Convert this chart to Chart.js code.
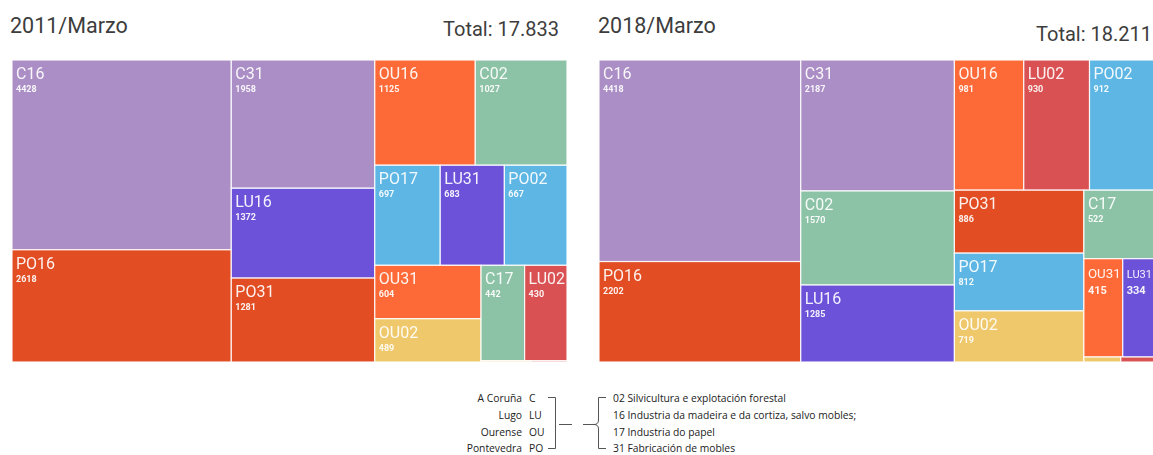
<!DOCTYPE html>
<html>
<head>
<meta charset="utf-8">
<title>Empresas forestais por provincia</title>
<script src="https://cdn.jsdelivr.net/npm/chart.js@4/dist/chart.umd.min.js"></script>
<style>
  body { margin: 0; background: #fff; width: 1153px; height: 455px; overflow: hidden; position: relative; font-family: Roboto, sans-serif; }
  .titulo { position: absolute; top: 13px; font-size: 21.5px; color: #3d3d3d; white-space: nowrap; }
  .total { position: absolute; font-size: 20px; color: #3d3d3d; white-space: nowrap; text-align: right; }
  canvas { position: absolute; top: 60px; }
  .lenda { position: absolute; top: 390px; font-family: "Open Sans", sans-serif; font-size: 10.3px; color: #222; line-height: 16.8px; white-space: nowrap; }
</style>
</head>
<body>

<div class="titulo" id="tit0" style="left:10px"></div>
<div class="total" id="tot0" style="right:594px; top:17px"></div>
<canvas id="mapa0" width="555" height="302" style="left:12px"></canvas>

<div class="titulo" id="tit1" style="left:598px"></div>
<div class="total" id="tot1" style="right:1px; top:22px"></div>
<canvas id="mapa1" width="555" height="302" style="left:599px"></canvas>

<!-- lenda: provincias e sectores -->
<div class="lenda" style="right:631px; text-align:right">A Coruña<br>Lugo<br>Ourense<br>Pontevedra</div>
<div class="lenda" style="left:529px">C<br>LU<br>OU<br>PO</div>
<div class="lenda" style="left:613px">
  02 Silvicultura e explotación forestal<br>
  16 Industria da madeira e da cortiza, salvo mobles;<br>
  17 Industria do papel<br>
  31 Fabricación de mobles
</div>
<svg style="position:absolute; left:540px; top:390px" width="70" height="64">
  <g fill="none" stroke="#555" stroke-width="1">
    <path d="M8 7.5 H15.5 V58.5 H8" />
    <path d="M19 34.5 H32" />
    <path d="M66 7.5 H58.5 V30 Q58.5 34.5 54 34.5 H43" />
    <path d="M54 34.5 Q58.5 34.5 58.5 39 V58.5 H66" />
  </g>
</svg>

<script>
// datos de marzo de cada ano, ordenados de maior a menor
const anios = ['2011/Marzo', '2018/Marzo'];

const codigos2011 = ['C16', 'PO16', 'C31', 'LU16', 'PO31', 'OU16', 'C02', 'PO17', 'LU31', 'PO02', 'OU31', 'OU02', 'C17', 'LU02', 'OU17', 'LU17'];
const valores2011 = [4428, 2618, 1958, 1372, 1281, 1125, 1027, 697, 683, 667, 604, 489, 442, 430, 7, 5];

const codigos2018 = ['C16', 'PO16', 'C31', 'C02', 'LU16', 'OU16', 'LU02', 'PO02', 'PO31', 'PO17', 'OU02', 'C17', 'OU31', 'LU31', 'OU17', 'LU17'];
const valores2018 = [4418, 2202, 2187, 1570, 1285, 981, 930, 912, 886, 812, 719, 522, 415, 334, 20, 18];

const cores = {
  C16: '#aa8ec5', C31: '#aa8ec5', C02: '#8cc2a5', C17: '#8cc2a5',
  LU16: '#6c52d9', LU31: '#6c52d9', LU02: '#d95152', LU17: '#d95152',
  OU16: '#fd6a37', OU31: '#fd6a37', OU02: '#efc86b', OU17: '#efc86b',
  PO16: '#e24d23', PO31: '#e24d23', PO17: '#5db6e4', PO02: '#5db6e4'
};

const PHI = (1 + Math.sqrt(5)) / 2;

// treemap "squarified" (como d3), devolve un rectangulo por valor
function squarify(valores, x0, y0, x1, y1) {
  const celdas = [];
  const n = valores.length;
  let total = valores.reduce((a, b) => a + b, 0);
  let i0 = 0, i1 = 0;
  while (i0 < n) {
    const dx = x1 - x0, dy = y1 - y0;
    let suma = valores[i1++];
    let minV = suma, maxV = suma;
    const alpha = Math.max(dy / dx, dx / dy) / (total * PHI);
    let beta = suma * suma * alpha;
    let minRatio = Math.max(maxV / beta, beta / minV);
    for (; i1 < n; ++i1) {
      const v = valores[i1];
      suma += v;
      if (v < minV) minV = v;
      if (v > maxV) maxV = v;
      beta = suma * suma * alpha;
      const r = Math.max(maxV / beta, beta / minV);
      if (r > minRatio) { suma -= v; break; }
      minRatio = r;
    }
    if (dx < dy) {
      const yb = i1 >= n ? y1 : y0 + dy * suma / total;
      let x = x0;
      for (let i = i0; i < i1; i++) {
        const w = dx * valores[i] / suma;
        celdas[i] = { x0: x, x1: x + w, y0: y0, y1: yb };
        x += w;
      }
      y0 = yb;
    } else {
      const xb = i1 >= n ? x1 : x0 + dx * suma / total;
      let y = y0;
      for (let i = i0; i < i1; i++) {
        const h = dy * valores[i] / suma;
        celdas[i] = { x0: x0, x1: xb, y0: y, y1: y + h };
        y += h;
      }
      x0 = xb;
    }
    total -= suma;
    i0 = i1;
  }
  return celdas;
}

const treemapPlugin = {
  id: 'treemap',
  afterDatasetsDraw(chart) {
    const { ctx, chartArea, scales: { x, y } } = chart;
    const ds = chart.data.datasets[0];
    const ar = chartArea.width / chartArea.height;
    const celdas = squarify(ds.data, 0, 0, ar, 1);

    ctx.save();
    celdas.forEach(function (c, i) {
      const left = x.getPixelForValue(c.x0 / ar);
      const right = x.getPixelForValue(c.x1 / ar);
      const top = y.getPixelForValue(c.y0);
      const bottom = y.getPixelForValue(c.y1);
      const w = right - left, h = bottom - top;

      ctx.fillStyle = ds.backgroundColor[i];
      ctx.fillRect(left, top, w, h);
      ctx.strokeStyle = 'rgba(255,255,255,0.9)';
      ctx.lineWidth = 1.2;
      ctx.strokeRect(left, top, w, h);

      if (w < 20 || h < 24) return;
      ctx.save();
      ctx.beginPath();
      ctx.rect(left, top, w, h);
      ctx.clip();
      ctx.fillStyle = 'rgba(255,255,255,0.92)';
      ctx.textBaseline = 'alphabetic';
      let tam = 16;
      ctx.font = tam + 'px Roboto';
      const ancho = ctx.measureText(chart.data.labels[i]).width;
      if (ancho > w - 6) tam = Math.max(10, tam * (w - 6) / ancho);
      ctx.font = tam + 'px Roboto';
      ctx.fillText(chart.data.labels[i], left + 4, top + 19);
      const pequena = tam < 14;
      ctx.font = 'bold ' + (pequena ? 11 : 9) + 'px Roboto';
      ctx.fillText(String(ds.data[i]), left + 4, top + (pequena ? 35 : 32));
      ctx.restore();
    });
    ctx.restore();
  }
};

function formatoMiles(n) {
  return String(n).replace(/\B(?=(\d{3})+(?!\d))/g, '.');
}

function mapa(id, anio, codigos, valores) {
  document.getElementById('tit' + id).textContent = anio;
  const total = valores.reduce((a, b) => a + b, 0);
  document.getElementById('tot' + id).textContent = 'Total: ' + formatoMiles(total);

  new Chart(document.getElementById('mapa' + id), {
    type: 'scatter',
    data: {
      labels: codigos,
      datasets: [{
        data: valores,
        backgroundColor: codigos.map(c => cores[c]),
        pointRadius: 0
      }]
    },
    options: {
      responsive: false,
      animation: false,
      layout: { padding: 0 },
      plugins: { legend: { display: false }, tooltip: { enabled: false } },
      scales: {
        x: { type: 'linear', min: 0, max: 1, display: false },
        y: { type: 'linear', min: 0, max: 1, reverse: true, display: false }
      }
    },
    plugins: [treemapPlugin]
  });
}

mapa(0, anios[0], codigos2011, valores2011);
mapa(1, anios[1], codigos2018, valores2018);
</script>
</body>
</html>
